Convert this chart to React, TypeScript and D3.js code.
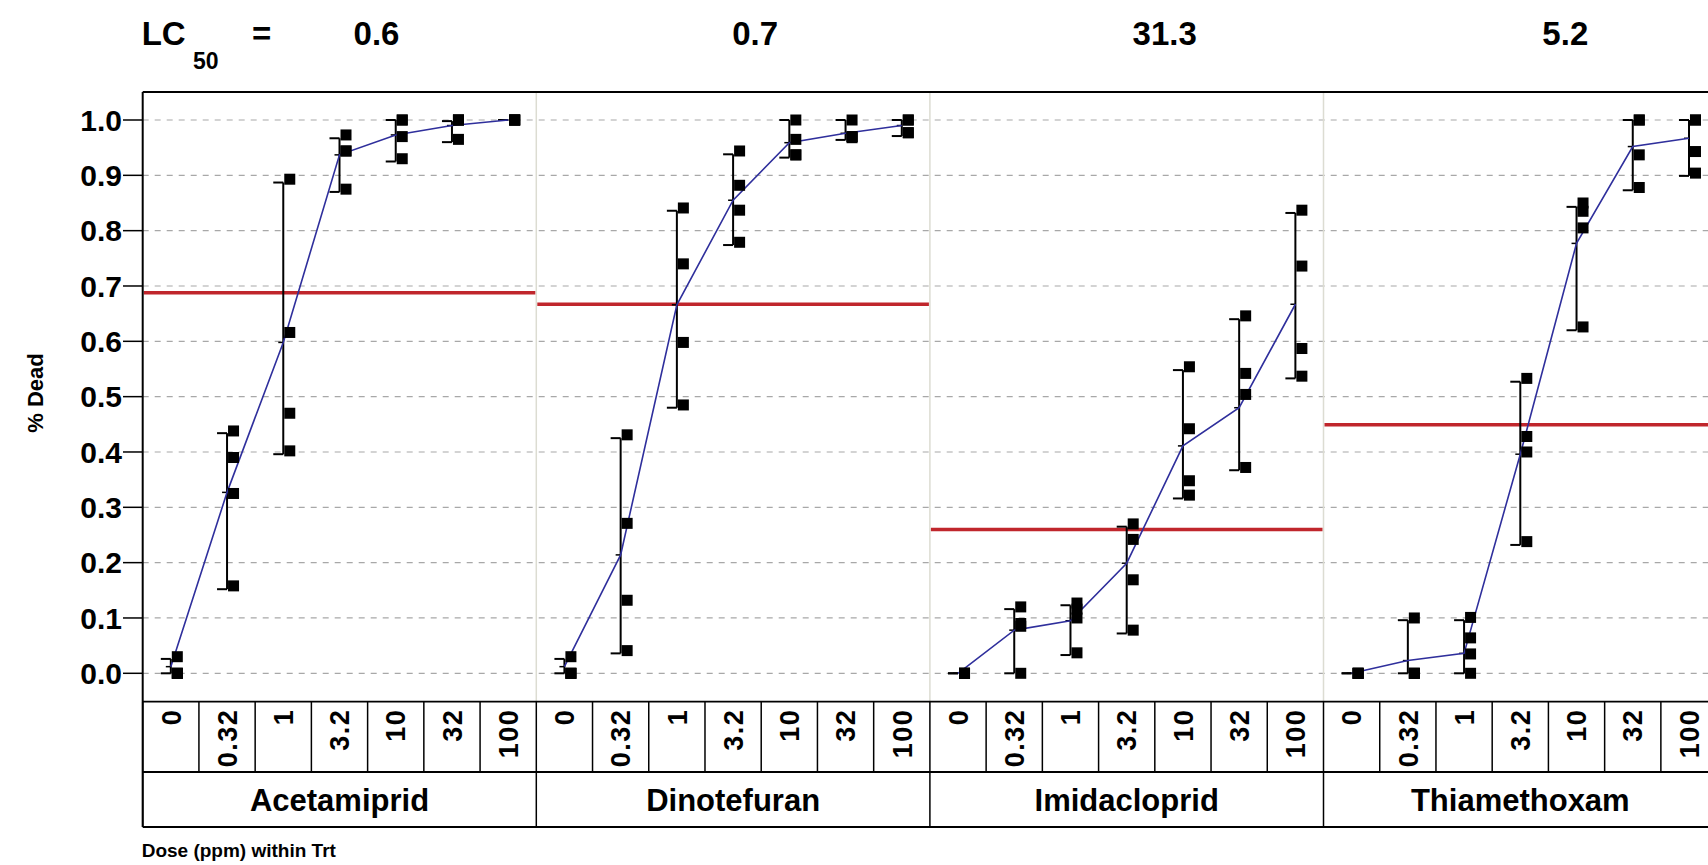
import React from "react";
import * as d3 from "d3";

// ---------- data ----------
const doses = ["0", "0.32", "1", "3.2", "10", "32", "100"];
const treatments = ["Acetamiprid", "Dinotefuran", "Imidacloprid", "Thiamethoxam"];
const lc50Labels = ["0.6", "0.7", "31.3", "5.2"];
const lc50Levels = [0.688, 0.667, 0.26, 0.449];
const yTicks = [0, 0.1, 0.2, 0.3, 0.4, 0.5, 0.6, 0.7, 0.8, 0.9, 1.0];

// replicate proportions dead, per dose
const acetamipridReps = [
  [0.03, 0.0, 0.0, 0.0],
  [0.438, 0.39, 0.325, 0.158],
  [0.893, 0.616, 0.47, 0.402],
  [0.973, 0.944, 0.944, 0.875],
  [1.0, 1.0, 0.97, 0.93],
  [1.0, 1.0, 1.0, 0.965],
  [1.0, 1.0, 1.0, 1.0],
];
const dinotefuranReps = [
  [0.03, 0.0, 0.0, 0.0],
  [0.431, 0.271, 0.132, 0.041],
  [0.841, 0.74, 0.598, 0.485],
  [0.944, 0.882, 0.837, 0.779],
  [1.0, 0.965, 0.937, 0.937],
  [1.0, 0.97, 0.97, 0.968],
  [1.0, 1.0, 0.977, 0.977],
];
const imidaclopridReps = [
  [0.0, 0.0, 0.0, 0.0],
  [0.12, 0.09, 0.085, 0.0],
  [0.127, 0.116, 0.1, 0.037],
  [0.27, 0.242, 0.169, 0.078],
  [0.554, 0.442, 0.348, 0.322],
  [0.646, 0.542, 0.504, 0.372],
  [0.837, 0.736, 0.587, 0.537],
];
const thiamethoxamReps = [
  [0.0, 0.0, 0.0, 0.0],
  [0.1, 0.0, 0.0, 0.0],
  [0.101, 0.064, 0.035, 0.0],
  [0.533, 0.428, 0.4, 0.238],
  [0.85, 0.835, 0.805, 0.626],
  [1.0, 1.0, 0.937, 0.878],
  [1.0, 1.0, 0.943, 0.904],
];

// means (connected line) and error bar limits
const acetamipridMeans = [0.012, 0.327, 0.598, 0.937, 0.973, 0.99, 1.0];
const acetamipridLow = [0.0, 0.152, 0.396, 0.87, 0.925, 0.96, 1.0];
const acetamipridHigh = [0.026, 0.434, 0.887, 0.967, 1.0, 0.998, 1.0];

const dinotefuranMeans = [0.012, 0.214, 0.666, 0.855, 0.959, 0.976, 0.99];
const dinotefuranLow = [0.0, 0.036, 0.48, 0.774, 0.932, 0.964, 0.971];
const dinotefuranHigh = [0.026, 0.425, 0.836, 0.938, 1.0, 1.0, 1.0];

const imidaclopridMeans = [0.0, 0.078, 0.095, 0.199, 0.411, 0.48, 0.667];
const imidaclopridLow = [0.0, 0.0, 0.033, 0.072, 0.316, 0.367, 0.533];
const imidaclopridHigh = [0.0, 0.116, 0.123, 0.265, 0.548, 0.64, 0.832];

const thiamethoxamMeans = [0.0, 0.023, 0.036, 0.396, 0.777, 0.952, 0.967];
const thiamethoxamLow = [0.0, 0.0, 0.0, 0.232, 0.62, 0.873, 0.899];
const thiamethoxamHigh = [0.0, 0.096, 0.096, 0.527, 0.843, 1.0, 1.0];

const panels = [
  { reps: acetamipridReps, means: acetamipridMeans, low: acetamipridLow, high: acetamipridHigh },
  { reps: dinotefuranReps, means: dinotefuranMeans, low: dinotefuranLow, high: dinotefuranHigh },
  { reps: imidaclopridReps, means: imidaclopridMeans, low: imidaclopridLow, high: imidaclopridHigh },
  { reps: thiamethoxamReps, means: thiamethoxamMeans, low: thiamethoxamLow, high: thiamethoxamHigh },
];

// ---------- layout ----------
const W = 1708;
const H = 865;
const plotLeft = 142.7;
const panelW = 393.6;
const plotTop = 92;
const tableTop = 701.7;
const row1Bottom = 772;
const row2Bottom = 827;
const titleOffsets = [37, 22, 38, 45];
const FONT = "'Liberation Sans', Arial, Helvetica, sans-serif";

export default function App() {
  const y = d3.scaleLinear().domain([0, 1]).range([673.3, 120]);
  const xPanel = d3
    .scaleBand<string>()
    .domain(treatments)
    .range([plotLeft, plotLeft + panelW * treatments.length])
    .padding(0);
  const xDose = d3.scaleBand<string>().domain(doses).range([0, panelW]).padding(0);
  const bw = xDose.bandwidth();
  const line = d3
    .line<[number, number]>()
    .x((d) => d[0])
    .y((d) => d[1]);

  return (
    <svg
      width={W}
      height={H}
      style={{ position: "absolute", left: 0, top: 0, background: "#fff" }}
      fontFamily={FONT}
    >
      <rect x={0} y={0} width={W} height={H} fill="#fff" />
      {/* title */}
      <text x={plotLeft - 1} y={45} fontSize={33} fontWeight="bold">LC</text>
      <text x={193} y={69} fontSize={23} fontWeight="bold">50</text>
      <text x={252} y={45} fontSize={33} fontWeight="bold">=</text>
      {treatments.map((t, i) => (
        <text
          key={"lc" + t}
          x={(xPanel(t) as number) + panelW / 2 + titleOffsets[i]}
          y={45}
          fontSize={33}
          fontWeight="bold"
          textAnchor="middle"
        >
          {lc50Labels[i]}
        </text>
      ))}

      {/* gridlines */}
      {yTicks.map((v) => (
        <line
          key={"g" + v}
          x1={plotLeft}
          x2={W}
          y1={y(v)}
          y2={y(v)}
          stroke="#a8a8a8"
          strokeWidth={1.2}
          strokeDasharray="6,6"
        />
      ))}

      {/* panel dividers */}
      {treatments.slice(1).map((t) => (
        <line
          key={"div" + t}
          x1={xPanel(t)}
          x2={xPanel(t)}
          y1={plotTop}
          y2={tableTop}
          stroke="#dcdcd2"
          strokeWidth={1.5}
        />
      ))}

      {/* LC50 red lines */}
      {treatments.map((t, i) => (
        <line
          key={"red" + t}
          x1={(xPanel(t) as number) + 1}
          x2={(xPanel(t) as number) + panelW - 1}
          y1={y(lc50Levels[i])}
          y2={y(lc50Levels[i])}
          stroke="#c0262c"
          strokeWidth={3.5}
        />
      ))}

      {/* panels */}
      {treatments.map((t, pi) => {
        const p = panels[pi];
        const px = xPanel(t) as number;
        const cx = (d: string) => px + (xDose(d) as number) + bw / 2;
        const pts: [number, number][] = doses.map((d, di) => [cx(d), y(p.means[di])]);
        return (
          <g key={"p" + t}>
            {doses.map((d, di) => {
              const x = cx(d);
              const lo = y(p.low[di]);
              const hi = y(p.high[di]);
              return (
                <g key={"eb" + d}>
                  {hi !== lo && (
                    <line x1={x} x2={x} y1={hi} y2={lo} stroke="#000" strokeWidth={2} />
                  )}
                  <line x1={x - 10} x2={x} y1={hi} y2={hi} stroke="#000" strokeWidth={2} />
                  <line x1={x - 10} x2={x} y1={lo} y2={lo} stroke="#000" strokeWidth={2} />
                  <line x1={x - 5} x2={x} y1={y(p.means[di])} y2={y(p.means[di])} stroke="#000" strokeWidth={1.5} />
                </g>
              );
            })}
            <path d={line(pts) as string} fill="none" stroke="#2f2f9c" strokeWidth={1.6} />
            {doses.map((d, di) =>
              p.reps[di].map((v, ri) => (
                <rect
                  key={"s" + d + "-" + ri}
                  x={cx(d) + 1}
                  y={y(v) - 5.5}
                  width={11}
                  height={11}
                  fill="#000"
                />
              ))
            )}
          </g>
        );
      })}

      {/* frame */}
      <line x1={plotLeft} x2={W} y1={plotTop} y2={plotTop} stroke="#000" strokeWidth={2} />
      <line x1={plotLeft} x2={plotLeft} y1={plotTop} y2={row2Bottom} stroke="#000" strokeWidth={2} />

      {/* y axis */}
      {yTicks.map((v) => (
        <g key={"yt" + v}>
          <line x1={123} x2={plotLeft} y1={y(v)} y2={y(v)} stroke="#000" strokeWidth={1.5} />
          <text
            x={122}
            y={y(v)}
            dy="0.36em"
            textAnchor="end"
            fontSize={30}
            fontWeight="bold"
          >
            {d3.format(".1f")(v)}
          </text>
        </g>
      ))}
      <text
        transform={`translate(35,393) rotate(-90)`}
        textAnchor="middle"
        dy="0.35em"
        fontSize={22}
        fontWeight="bold"
      >
        % Dead
      </text>

      {/* dose / treatment table */}
      {[tableTop, row1Bottom, row2Bottom].map((yy) => (
        <line key={"h" + yy} x1={plotLeft} x2={W} y1={yy} y2={yy} stroke="#000" strokeWidth={1.8} />
      ))}
      {treatments.map((t) => {
        const px = xPanel(t) as number;
        return (
          <g key={"tab" + t}>
            {doses.map((d) => (
              <line
                key={"v" + d}
                x1={px + (xDose(d) as number)}
                x2={px + (xDose(d) as number)}
                y1={tableTop}
                y2={row1Bottom}
                stroke="#000"
                strokeWidth={1.5}
              />
            ))}
            <line x1={px} x2={px} y1={row1Bottom} y2={row2Bottom} stroke="#000" strokeWidth={1.5} />
            {doses.map((d) => (
              <text
                key={"dl" + d}
                transform={`translate(${px + (xDose(d) as number) + bw / 2},${tableTop + 7}) rotate(-90)`}
                textAnchor="end"
                dy="0.36em"
                fontSize={27}
                fontWeight="bold"
                letterSpacing={1.5}
              >
                {d}
              </text>
            ))}
            <text
              x={px + panelW / 2}
              y={(row1Bottom + row2Bottom) / 2}
              dy="0.36em"
              textAnchor="middle"
              fontSize={31}
              fontWeight="bold"
            >
              {t}
            </text>
          </g>
        );
      })}
      <text x={plotLeft - 1} y={857} fontSize={19} fontWeight="bold">
        Dose (ppm) within Trt
      </text>
    </svg>
  );
}
